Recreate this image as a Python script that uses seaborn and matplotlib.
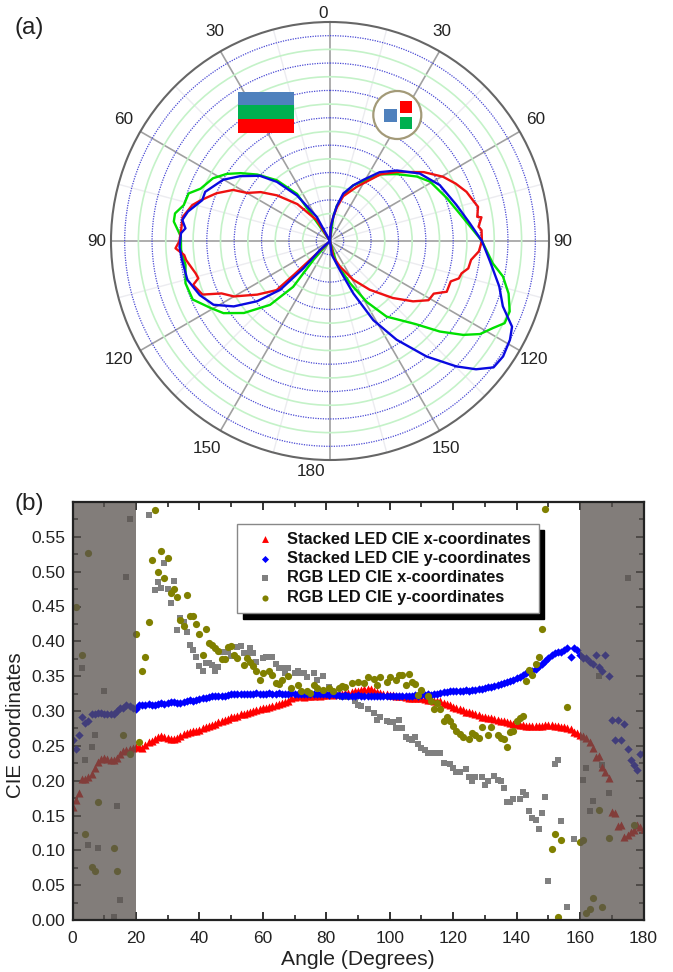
import numpy as np
import pandas as pd
import matplotlib
matplotlib.use('Agg')
import matplotlib.pyplot as plt
import seaborn as sns
from matplotlib.patches import Rectangle, Circle

# polar lobes: angle from the top (deg), r on a 0-1.6 scale
blue_right_deg = [3, 7.8, 11, 15.6, 22.6, 28.7, 35.8, 43.5, 53, 63, 74, 82.8, 90, 97.4, 105, 110.7, 115.2, 118.8, 123.7, 127.7, 131.3, 134.8, 140.1, 146, 151.3, 156, 161, 173]
blue_right_r = [.10, .18, .26, .36, .44, .51, .62, .71, .82, .90, .96, 1.03, 1.11, 1.18, 1.28, 1.35, 1.47, 1.50, 1.52, 1.51, 1.42, 1.30, 1.10, .87, .66, .42, .23, .10]
green_right_deg = [7.8, 11, 16.2, 22.6, 29.3, 37.1, 44.9, 53.4, 59.3, 69.9, 80.4, 90, 97.8, 101.6, 106.4, 111.4, 115.2, 118.1, 121.8, 125.2, 129.5, 134.2, 143.2, 148.9, 154.7, 163.4]
green_right_r = [.18, .26, .35, .44, .50, .61, .69, .79, .85, .91, .99, 1.11, 1.20, 1.29, 1.36, 1.41, 1.41, 1.35, 1.29, 1.19, 1.04, .87, .69, .52, .34, .17]
red_right_deg = [4, 8, 11.5, 16.4, 26.1, 37.1, 43.9, 53.7, 60.4, 65.5, 70.2, 74.7, 77, 80.7, 81.1, 84.5, 85.9, 90, 94, 97.6, 101.2, 103.8, 106.2, 108.5, 113.5, 116.9, 121, 126, 132.2, 140.8, 149.1, 158.7, 168]
red_right_r = [.12, .18, .25, .34, .44, .61, .70, .85, .95, 1.01, 1.06, 1.09, 1.11, 1.09, 1.12, 1.09, 1.11, 1.11, 1.09, 1.04, 1.03, .99, .98, .93, .93, .85, .84, .75, .62, .46, .33, .20, .12]
blue_left_deg = [28.7, 35.9, 41.9, 47.1, 54.2, 60.2, 68.5, 72.3, 78.3, 81.9, 85, 87, 92.2, 97.3, 105.2, 112.6, 118.7, 124.2, 129.6, 134.4, 135.7, 132]
blue_left_r = [.20, .41, .58, .70, .81, .90, .98, .98, 1.06, 1.09, 1.06, 1.09, 1.10, 1.09, 1.08, 1.03, .97, .85, .69, .51, .28, .10]
green_left_deg = [35, 41.2, 47.6, 52.8, 57, 61.8, 68, 71.4, 76.2, 79.9, 82.9, 88.3, 93.4, 99.4, 106.3, 113.1, 119.3, 124.1, 129.9, 136.8, 141.2, 138.7]
green_left_r = [.42, .59, .72, .82, .90, .97, 1.02, 1.09, 1.10, 1.15, 1.15, 1.09, 1.09, 1.07, 1.10, 1.09, 1.00, .94, .82, .64, .43, .18]
red_left_deg = [32.4, 41.5, 49.2, 54.8, 59.9, 62.2, 67.2, 72.5, 75.4, 80.7, 85.1, 90, 92.7, 95.5, 97.6, 103.5, 105.8, 107.8, 112.8, 115.8, 120, 126.4, 132.6, 133.1, 133.6]
red_left_r = [.18, .36, .51, .62, .70, .80, .90, .99, 1.04, 1.09, 1.09, 1.10, 1.13, 1.07, 1.06, 1.01, 1.00, 1.05, 1.01, .88, .81, .66, .53, .36, .14]

major_angles = [0, 30, 60, 90, 120, 150, 180, 210, 240, 270, 300, 330]
minor_angles = [15, 45, 75, 105, 135, 165, 195, 225, 255, 285, 315, 345]
angle_labels = ['0', '30', '60', '90', '120', '150', '180', '150', '120', '90', '60', '30']
blue_rings = [.1, .3, .5, .7, .9, 1.1, 1.3, 1.5]
green_rings = [.2, .4, .6, .8, 1.0, 1.2, 1.4]

# CIE coordinates, one reading per degree for the stacked LED
stacked_x = [.162, .172, .183, .203, .203, .205, .210, .218, .227, .231, .233, .231, .229, .229, .232, .238, .242, .244, .245, .247, .248,
             .248, .247, .251, .255, .257, .260, .262, .264, .263, .261, .260, .260, .261, .264, .267, .268, .270, .271, .272, .273,
             .275, .277, .278, .280, .282, .284, .285, .287, .289, .291, .292, .293, .295, .296, .297, .298, .300, .301, .303, .304,
             .305, .306, .307, .308, .310, .311, .313, .315, .318, .320, .321, .321, .320, .321, .321, .322, .323, .322, .323, .323,
             .324, .323, .324, .324, .325, .326, .326, .327, .328, .329, .330, .332, .332, .331, .328, .327, .326, .325, .324, .323,
             .323, .322, .321, .321, .320, .319, .319, .319, .318, .318, .317, .316, .316, .315, .314, .314, .312, .310, .308, .306,
             .305, .303, .301, .299, .298, .297, .296, .294, .292, .291, .290, .290, .288, .287, .286, .285, .284, .283, .282, .281,
             .280, .280, .278, .278, .279, .279, .278, .279, .280, .280, .280, .279, .278, .277, .277, .276, .274, .270, .268, .266,
             .264, .261, .255, .247, .234, .236, .220, .213, .204, .155, .153, .135, .137, .119, .122, .126, .129, .136, .134, .131]
stacked_y = [.259, .246, .265, .292, .283, .286, .296, .295, .297, .297, .295, .296, .295, .296, .300, .304, .305, .308, .307, .304, .303,
             .308, .309, .309, .310, .309, .308, .310, .311, .310, .312, .313, .313, .312, .312, .313, .315, .316, .315, .316, .317,
             .319, .319, .320, .321, .321, .321, .322, .322, .323, .324, .325, .324, .325, .325, .324, .325, .325, .326, .325, .325,
             .325, .326, .325, .325, .326, .325, .325, .325, .326, .325, .324, .325, .325, .324, .324, .325, .324, .325, .324, .324,
             .323, .324, .323, .323, .322, .323, .322, .322, .322, .323, .322, .322, .321, .322, .321, .322, .321, .322, .321, .322,
             .321, .322, .321, .321, .322, .322, .322, .323, .322, .323, .323, .324, .323, .324, .324, .326, .327, .327, .328, .328,
             .329, .329, .329, .330, .329, .330, .330, .331, .331, .333, .334, .335, .336, .338, .339, .340, .342, .343, .345, .347,
             .349, .352, .354, .356, .358, .361, .364, .368, .372, .376, .381, .383, .384, .385, .388, .390, .378, .390, .388, .380,
             .376, .376, .370, .368, .380, .363, .358, .380, .350, .287, .259, .287, .259, .282, .245, .229, .222, .216, .238, .239]
stacked_deg = list(range(181))

rgb_x_deg = [3, 4, 5, 6, 7, 8, 10, 13, 14, 15, 17, 18, 24, 26, 27, 28, 29, 30, 31, 32, 33, 34, 35, 36, 37, 38, 39, 40, 41, 42, 43, 44, 45, 46, 47,
             49, 50, 52, 53, 54, 55, 56, 57, 58, 60, 61, 63, 64, 65, 66, 67, 68, 70, 71, 72, 73, 74, 76, 77, 79, 81, 85, 87, 89, 90, 91, 93, 95,
             96, 97, 99, 100, 101, 102, 103, 104, 105, 106, 107, 108, 109, 110, 111, 112, 114, 115, 116, 117, 119, 120, 121, 122, 124, 125, 126,
             127, 129, 130, 131, 133, 134, 135, 136, 137, 138, 139, 141, 142, 143, 144, 145, 146, 147, 148, 149, 150, 152, 153, 154, 156, 158,
             161, 162, 163, 164, 166, 167, 169, 175]
rgb_x = [.362, .229, .107, .248, .266, .104, .328, .004, .164, .029, .492, .576, .582, .474, .485, .476, .512, .475, .455, .487, .416, .434, .428, .414, .395, .388, .378, .365, .357, .369, .369, .366, .357, .363, .384,
         .384, .379, .392, .393, .383, .383, .390, .383, .371, .376, .378, .378, .367, .362, .362, .354, .362, .354, .357, .354, .354, .349, .354, .345, .350, .335, .320, .320, .314, .309, .307, .303, .297,
         .287, .292, .285, .284, .284, .275, .287, .275, .263, .260, .258, .263, .253, .247, .244, .240, .239, .240, .240, .226, .224, .218, .213, .213, .217, .205, .199,
         .205, .205, .194, .199, .207, .201, .199, .189, .169, .170, .173, .173, .184, .179, .156, .146, .144, .131, .153, .177, .056, .224, .229, .142, .018, .116,
         .201, .218, .157, .171, .350, .222, .183, .491]
rgb_y_deg = [1, 3, 4, 5, 6, 7, 8, 13, 14, 16, 18, 20, 21, 22, 23, 24, 25, 26, 27, 28, 29, 30, 31, 32, 33, 34, 35, 36, 37, 38, 39, 40, 41, 42, 43, 44, 45, 46, 47, 48, 49, 50, 51, 52,
             54, 55, 56, 57, 58, 59, 60, 62, 63, 64, 65, 66, 68, 69, 71, 72, 74, 75, 76, 77, 79, 81, 82, 84, 85, 86, 88, 90, 92, 93, 95, 96, 97, 99, 100, 102, 103, 104, 105, 106, 107, 108,
             109, 110, 112, 113, 114, 115, 116, 117, 118, 119, 120, 121, 122, 123, 125, 126, 127, 128, 129, 131, 132, 134, 135, 136, 137, 138, 139, 140, 141, 142, 143, 144, 145, 146, 147,
             148, 149, 151, 152, 153, 154, 156, 160, 161, 162, 163, 164, 166, 167, 169, 177]
rgb_y = [.449, .381, .124, .527, .076, .071, .169, .104, .071, .266, .238, .411, .255, .358, .377, .428, .517, .588, .500, .530, .491, .520, .470, .475, .464, .430, .422, .466, .437, .436, .425, .411, .381, .417, .398, .395, .390, .386, .375, .375, .392, .394, .381, .376,
         .366, .376, .370, .364, .358, .344, .355, .358, .352, .340, .339, .344, .350, .333, .338, .328, .328, .326, .338, .333, .330, .333, .328, .333, .336, .335, .340, .342, .340, .349, .346, .338, .349, .342, .349, .345, .351, .352, .337, .353, .342, .339,
         .323, .330, .321, .314, .303, .311, .303, .286, .292, .286, .278, .271, .267, .262, .260, .268, .266, .261, .277, .266, .277, .266, .261, .260, .249, .270, .272, .286, .290, .293, .343, .359, .351, .367, .378,
         .417, .590, .102, .123, .005, .115, .306, .112, .115, .010, .016, .031, .158, .018, .118, .137]

series_names = ['Stacked LED CIE x-coordinates', 'Stacked LED CIE y-coordinates',
                'RGB LED CIE x-coordinates', 'RGB LED CIE y-coordinates']

sns.set_theme(style='white')
plt.rcParams['font.family'] = ['Liberation Sans', 'DejaVu Sans']

W, H = 673, 972
fig = plt.figure(figsize=(W / 100, H / 100), dpi=100)


def px_rect(x0, y0, x1, y1, color):
    fig.add_artist(Rectangle((x0 / W, 1 - y1 / H), (x1 - x0) / W, (y1 - y0) / H,
                             transform=fig.transFigure, color=color, lw=0, zorder=5))


# (a) polar part
ax1 = fig.add_axes([111 / W, 1 - 460 / H, 438 / W, 438 / H], projection='polar')
ax1.set_theta_zero_location('N')
ax1.set_theta_direction(-1)
ax1.set_rlim(0, 1.6)
ax1.set_yticks(blue_rings)
ax1.set_yticks(green_rings, minor=True)
ax1.set_yticklabels([])
ax1.set_xticks(np.deg2rad(major_angles))
ax1.set_xticks(np.deg2rad(minor_angles), minor=True)
ax1.set_xticklabels([])
ax1.tick_params(axis='x', which='major', length=0)
ax1.tick_params(axis='x', which='minor', direction='in', length=4, width=1.2, color='#555555')
ax1.tick_params(axis='y', which='both', length=0)
ax1.grid(False)
ax1.yaxis.grid(True, which='major', color='#4a4ad4', ls=(0, (1, 1)), lw=0.9)
ax1.yaxis.grid(True, which='minor', color='#c4f2c8', ls='-', lw=1.2)
ax1.xaxis.grid(True, which='major', color='#a0a0a0', ls='-', lw=1.2)
ax1.xaxis.grid(True, which='minor', color='#ececf0', ls='-', lw=1.0)
ax1.set_axisbelow(True)
ax1.spines['polar'].set_color('#666666')
ax1.spines['polar'].set_linewidth(1.5)

# angle labels sit slightly off the spokes, placed by hand
label_px = [(323, 13), (442, 32), (536, 120), (563, 241), (534, 360), (446, 448), (311, 471),
            (207, 448), (119, 360), (97, 241), (124, 119), (215, 32)]
for lab, (lx, ly) in zip(angle_labels, label_px):
    fig.text(lx / W, 1 - ly / H, lab, fontsize=12.3, color='#222222', ha='center', va='center')

lobes = [(green_left_deg, green_left_r, -1, '#00e000'), (green_right_deg, green_right_r, 1, '#00e000'),
         (red_left_deg, red_left_r, -1, '#ee1111'), (red_right_deg, red_right_r, 1, '#ee1111'),
         (blue_left_deg, blue_left_r, -1, '#0a0ae0'), (blue_right_deg, blue_right_r, 1, '#0a0ae0')]
for angles, radii, side, col in lobes:
    th = np.deg2rad(np.array(angles) * side)
    # both lobes close on the origin
    th = np.r_[th[0], th, th[-1]]
    rr = np.r_[0, radii, 0]
    sns.lineplot(x=th, y=rr, ax=ax1, color=col, lw=1.7, sort=False, estimator=None)
ax1.set_xlabel('')
ax1.set_ylabel('')

# little LED sketches
px_rect(238, 92, 294, 105.5, '#4f81bd')
px_rect(238, 105.5, 294, 119.5, '#00b050')
px_rect(238, 119.5, 294, 133, '#ff0000')
fig.add_artist(Circle((397.3, H - 115), 24, transform=None, fc='white', ec='#a39a78', lw=1.6, zorder=4))
px_rect(384, 109, 396.7, 122, '#4f81bd')
px_rect(400, 100.7, 412, 112.7, '#ff0000')
px_rect(400, 116.7, 412, 128.7, '#00b050')

# (b) CIE coordinates
ax2 = fig.add_axes([72.5 / W, 1 - 920 / H, 571 / W, 418 / H])
df_xs = pd.DataFrame({'deg': stacked_deg, 'val': stacked_x})
df_ys = pd.DataFrame({'deg': stacked_deg, 'val': stacked_y})
df_xr = pd.DataFrame({'deg': rgb_x_deg, 'val': rgb_x})
df_yr = pd.DataFrame({'deg': rgb_y_deg, 'val': rgb_y})
sns.scatterplot(data=df_xr, x='deg', y='val', ax=ax2, marker='s', s=18, color='#808080', lw=0, label=series_names[2], zorder=2)
sns.scatterplot(data=df_xs, x='deg', y='val', ax=ax2, marker='^', s=34, color='#ff0000', lw=0, label=series_names[0], zorder=3)
sns.scatterplot(data=df_ys, x='deg', y='val', ax=ax2, marker='D', s=18, color='#0000ff', lw=0, label=series_names[1], zorder=4)
sns.scatterplot(data=df_yr, x='deg', y='val', ax=ax2, marker='o', s=27, color='#808000', lw=0, label=series_names[3], zorder=5)

ax2.axvspan(0, 20, color='#58524e', alpha=0.75, lw=0, zorder=6)
ax2.axvspan(160, 180, color='#58524e', alpha=0.75, lw=0, zorder=6)

ax2.set_xlim(0, 180)
ax2.set_ylim(0, 0.6)
ax2.set_xticks(range(0, 181, 20))
ax2.set_xticks(range(10, 180, 20), minor=True)
ax2.set_yticks([i * 0.05 for i in range(12)])
ax2.set_yticks([0.025 + i * 0.05 for i in range(12)], minor=True)
ax2.set_yticklabels([f'{i * 0.05:.2f}' for i in range(12)])
ax2.tick_params(which='major', direction='in', length=6, width=1.3, color='#222222', top=True, right=True,
                left=True, bottom=True, labelsize=12.5, labelcolor='#222222', pad=5)
ax2.tick_params(axis='x', which='major', pad=8)
ax2.tick_params(which='minor', direction='in', length=3.5, width=1.2, color='#222222', top=True, right=True, left=True, bottom=True)
for s in ax2.spines.values():
    s.set_color('#222222')
    s.set_linewidth(1.6)
    s.set_zorder(8)
ax2.set_xlabel('Angle (Degrees)', fontsize=15.2, color='#222222', labelpad=3)
ax2.set_ylabel('CIE coordinates', fontsize=14.8, color='#222222', labelpad=5, y=0.466)

handles, labels = ax2.get_legend_handles_labels()
order = [labels.index(n) for n in series_names]
leg = ax2.legend([handles[i] for i in order], [labels[i] for i in order],
                 loc='upper left', bbox_to_anchor=((237 - 72.5) / 571, (920 - 524) / 418),
                 borderaxespad=0, fancybox=False, framealpha=1, edgecolor='#888888',
                 shadow={'color': 'black', 'alpha': 1, 'ox': 4.3, 'oy': -4.3},
                 prop={'weight': 'bold', 'size': 11.75}, labelspacing=0.27,
                 handletextpad=0.1, borderpad=0.47, markerscale=0.85, handlelength=2.5)
leg.set_zorder(9)
for t in leg.get_texts():
    t.set_color('#111111')

fig.text(15 / W, 1 - 28 / H, '(a)', fontsize=17.5, color='#222222', va='center')
fig.text(15 / W, 1 - 504 / H, '(b)', fontsize=17.5, color='#222222', va='center')

fig.savefig('out.png', dpi=100)
